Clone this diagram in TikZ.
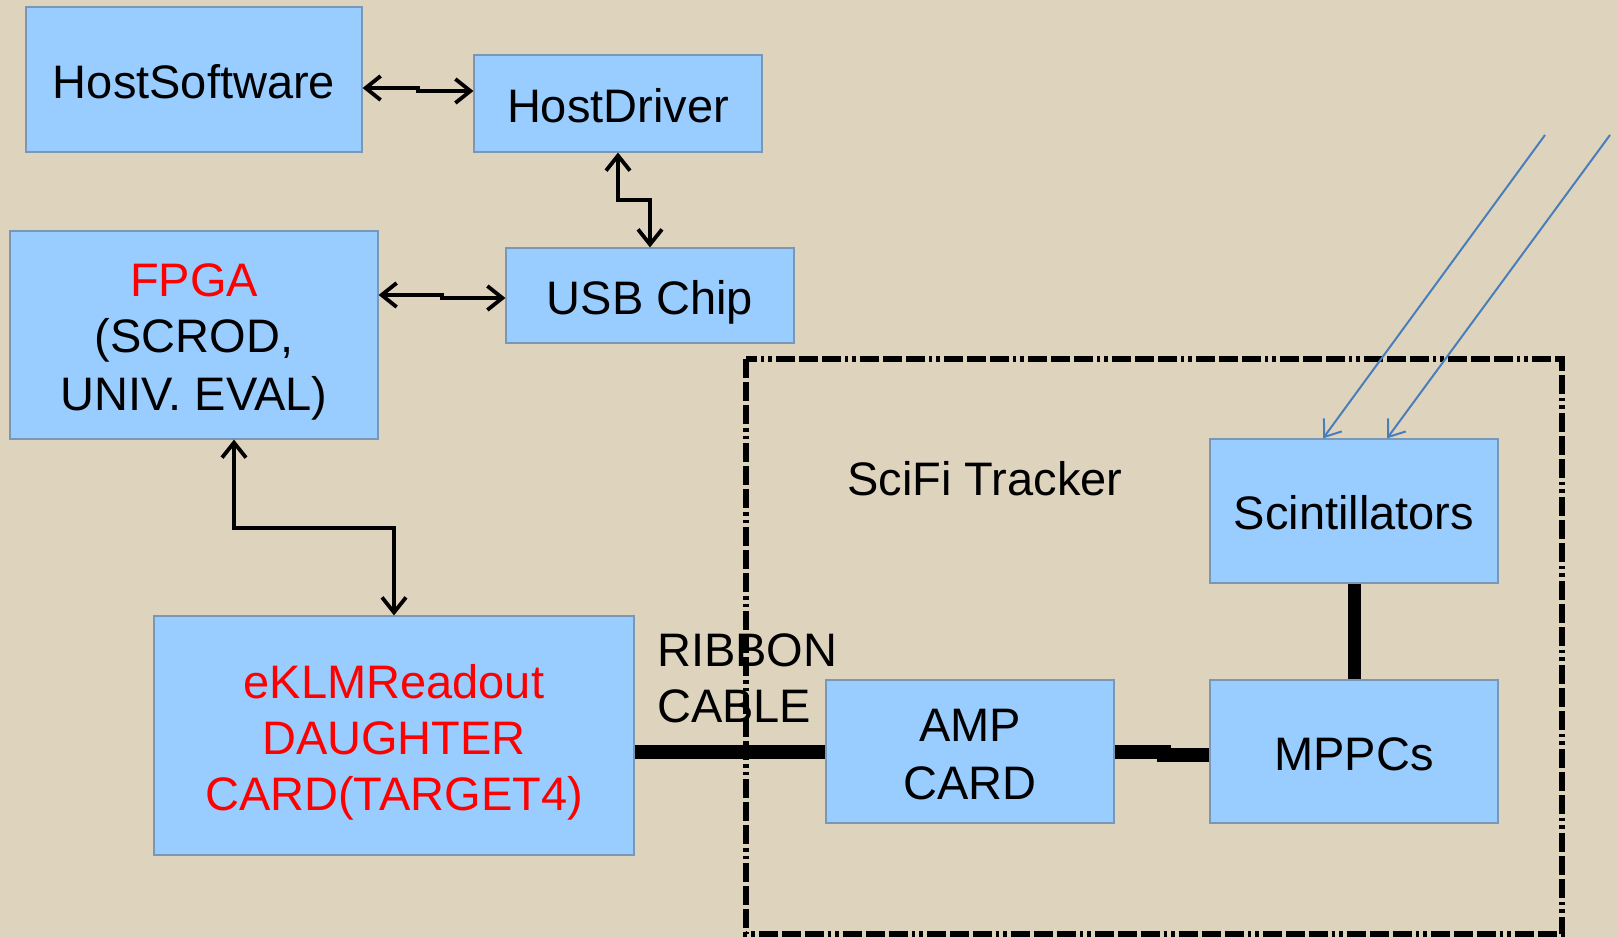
\documentclass[tikz,border=0pt]{standalone}
\usepackage{fontspec}
\setmainfont{Liberation Sans}
\usetikzlibrary{arrows.meta}
\definecolor{paper}{HTML}{DED4BE}
\definecolor{boxblue}{HTML}{99CCFF}
\definecolor{boxedge}{HTML}{7A98B6}
\definecolor{rayblue}{HTML}{4A7EBB}
\definecolor{lblred}{HTML}{FF0000}
\newcommand{\linestrut}{\rule[-0.2em]{0pt}{1.2em}}

\begin{document}
\begin{tikzpicture}[x=1pt, y=-1pt,
  box/.style  ={draw=boxedge, fill=boxblue, line width=1.2pt, inner sep=0pt,
                align=center, font=\fontsize{47}{56}\selectfont,
                execute at begin node=\linestrut, execute at end node=\linestrut},
  lbl/.style  ={font=\fontsize{47}{56}\selectfont, inner sep=0pt},
  link/.style ={{Straight Barb[length=15pt,width=24pt]}-{Straight Barb[length=15pt,width=24pt]},
                line width=3.8pt, black},
  cable/.style={line width=14pt, black},
  ray/.style  ={-{Straight Barb[length=15pt,width=22pt]}, line width=2pt, rayblue},
  frame/.style={line width=6pt, black,
                dash pattern=on 19pt off 4pt on 19pt off 4pt on 19pt off 4pt
                             on 3.5pt off 4pt on 3.5pt off 4pt},
]

% ---------------- background ----------------
\fill[paper] (0,0) rectangle (1617,937);
\useasboundingbox (0,0) rectangle (1617,937);

% ---------------- tracker frame ----------------
\draw[frame] (745.5,359) rectangle (1562,934);
\node[lbl] (scifi) at (985,479) {SciFi Tracker};

% ---------------- boxes ----------------
\node[box, minimum width=336pt, minimum height=145pt] (hsw)  at (194,79.5)  {HostSoftware};
\node[box, minimum width=288pt, minimum height=97pt]  (hdrv) at (618,103.5) {HostDriver};
\node[box, minimum width=368pt, minimum height=208pt] (fpga) at (194,335)
  {\linestrut\textcolor{lblred}{FPGA}\\(SCROD,\\UNIV. EVAL)\linestrut};
\node[box, minimum width=288pt, minimum height=95pt]  (usb)  at (650,295.5) {USB Chip};
\node[box, minimum width=480pt, minimum height=239pt, text=lblred] (eklm) at (394,735.5)
  {\linestrut eKLMReadout\\DAUGHTER\\CARD(TARGET4)\linestrut};
\node[box, minimum width=288pt, minimum height=143pt] (amp)   at (970,751.5)
  {\linestrut AMP\\CARD\linestrut};
\node[box, minimum width=288pt, minimum height=143pt] (mppc)  at (1354,751.5) {MPPCs};
\node[box, minimum width=288pt, minimum height=144pt] (scint) at (1354,511)   {Scintillators};

\node[lbl, anchor=west, align=left] (ribbon) at (657,678) {RIBBON\\CABLE};

% ---------------- links ----------------
\draw[link] ([yshift=-8.5pt]hsw.east) -- ++(55pt,0) |- ([yshift=12.5pt]hdrv.west);
\draw[link] (hdrv.south) -- ++(0,-47pt) -| (usb.north);
\draw[link] ([yshift=40pt]fpga.east) -- ++(63pt,0) |- ([yshift=-2.5pt]usb.west);
\draw[link] ([xshift=40pt]fpga.south) -- ++(0,-88pt) -| (eklm.north);

% ---------------- cables ----------------
\draw[cable] (eklm.east |- amp.west) -- (amp.west);
\draw[cable] (amp.east) -- ++(49pt,0) |- ([yshift=-3pt]mppc.west);
\draw[line width=13pt] (scint.south) -- (mppc.north);

% ---------------- incoming particles ----------------
\coordinate (src1) at (1545,135);
\coordinate (src2) at (1610,135);
\draw[ray] (src1) -- ([xshift=-31pt]scint.north);
\draw[ray] (src2) -- ([xshift=33pt]scint.north);

\end{tikzpicture}
\end{document}
